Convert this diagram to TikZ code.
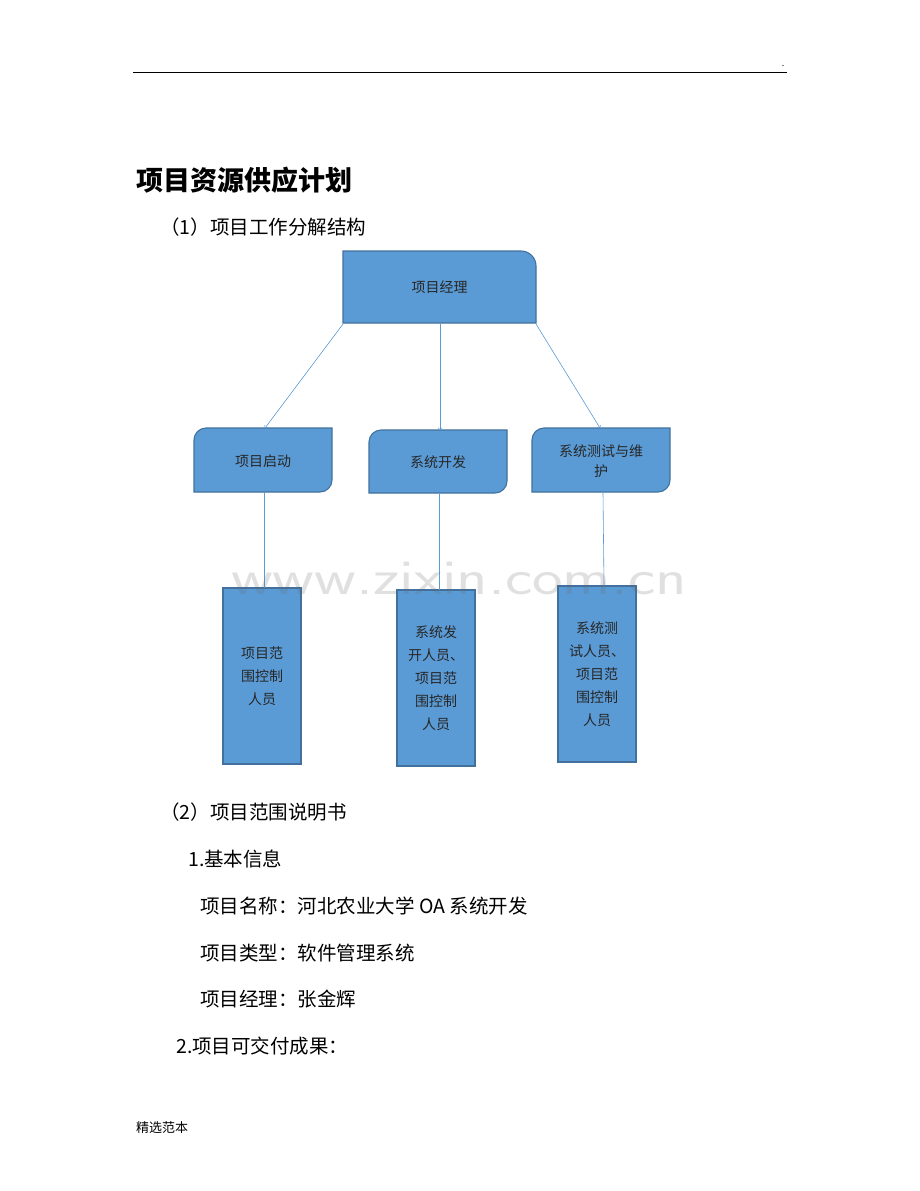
\documentclass[tikz,border=0pt]{standalone}
\usepackage{fontspec}
\setmainfont{Liberation Serif}
\newfontfamily\cjk{Noto Sans CJK SC}
\definecolor{boxfill}{HTML}{5B9BD5}
\definecolor{boxline}{HTML}{41719C}
\begin{document}
\begin{tikzpicture}[x=1pt,y=-1pt,
  bx/.style={draw=boxline,line width=1.1pt,fill=boxfill},
  conn/.style={draw=boxfill,line width=0.6pt},
  lbl/.style={font=\cjk\fontsize{14}{20}\selectfont,align=center,text=black!85},
  txt/.style={anchor=west,font=\cjk\fontsize{19.5}{22}\selectfont,inner sep=0}]
\useasboundingbox (0,0) rectangle (920,1191);
\fill[white] (0,0) rectangle (920,1191);
\draw[line width=0.8pt] (133,72) -- (787,72);
\node[font=\fontsize{10}{10}\selectfont] (dot) at (783,66) {.};
\node[txt,font=\cjk\bfseries\fontsize{27}{30}\selectfont] (title) at (136,180) {项目资源供应计划};
\node[txt] (s1) at (160,227) {（1）项目工作分解结构};
% top box
\path[bx] (343,251) -- (440,251) [rounded corners=15] -- (536,251) -- (536,287) [sharp corners] -- (536,323) -- (343,323) -- cycle;
\node[lbl] (pm) at (439.5,287) {项目经理};
% children: top-left and bottom-right rounded
\newcommand\childbox[4]{\path[bx] (#1,{(#2+#4)/2}) [rounded corners=12] -- (#1,#2) -- ({(#1+#3)/2},#2) [sharp corners] -- (#3,#2) -- (#3,{(#2+#4)/2}) [rounded corners=12] -- (#3,#4) -- ({(#1+#3)/2},#4) [sharp corners] -- (#1,#4) -- cycle;}
\childbox{194}{428}{332}{492}
\childbox{369}{430}{507}{493}
\childbox{532}{428}{670}{492}
\node[lbl] (c1) at (263,461) {项目启动};
\node[lbl] (c2) at (438,462) {系统开发};
\node[lbl,text width=120pt] (c3) at (601,461) {系统测试与维\\护};
% bottom boxes
\path[bx] (223,588) rectangle (301,764);
\path[bx] (397,590) rectangle (475,766);
\path[bx] (558,586) rectangle (636,762);
\node[lbl,font=\cjk\fontsize{14}{23}\selectfont] (b1) at (262,676) {项目范\\围控制\\人员};
\node[lbl,font=\cjk\fontsize{14}{23}\selectfont] (b2) at (436,678) {系统发\\开人员、\\项目范\\围控制\\人员};
\node[lbl,font=\cjk\fontsize{14}{23}\selectfont] (b3) at (597,674) {系统测\\试人员、\\项目范\\围控制\\人员};
% connectors
\coordinate (p1) at (343,324); \coordinate (q1) at (265,428);
\coordinate (p2) at (440,324); \coordinate (q2) at (440,430);
\coordinate (p3) at (536,324); \coordinate (q3) at (600,428);
\draw[conn,->] (p1) -- (q1);
\draw[conn,->] (p2) -- (q2);
\draw[conn,->] (p3) -- (q3);
\coordinate (r1) at (264,493); \coordinate (t1) at (264,588);
\coordinate (r2) at (439,494); \coordinate (t2) at (439,590);
\coordinate (r3) at (603,493); \coordinate (t3) at (604,586);
\draw[conn] (r1) -- (t1); \draw[conn] (r2) -- (t2); \draw[conn] (r3) -- (t3);
% watermark
\node[font=\sffamily\fontsize{50}{50}\selectfont,text=black!60,opacity=0.2,xscale=1.3] (wm) at (459,578) {www.zixin.com.cn};
% text below
\node[txt] (s2) at (160,812) {（2）项目范围说明书};
\node[txt] (l1) at (188,859) {1.基本信息};
\node[txt] (l2) at (200,906) {项目名称：河北农业大学 OA 系统开发};
\node[txt] (l3) at (200,953) {项目类型：软件管理系统};
\node[txt] (l4) at (200,999) {项目经理：张金辉};
\node[txt] (l5) at (176,1046) {2.项目可交付成果：};
\node[txt,font=\cjk\fontsize{13}{14}\selectfont] (ft) at (136,1128) {精选范本};
\end{tikzpicture}
\end{document}
